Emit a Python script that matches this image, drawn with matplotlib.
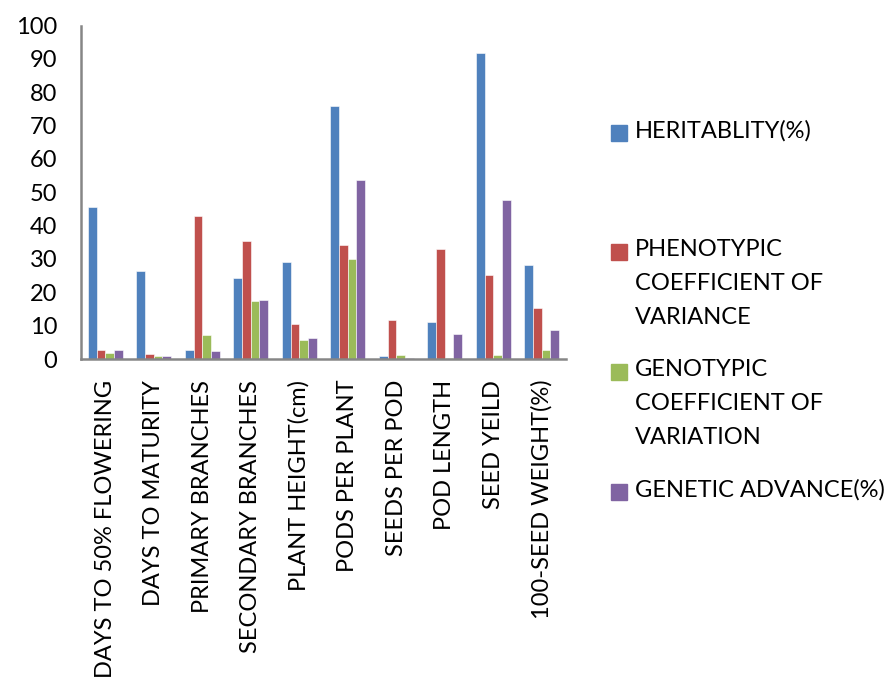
import numpy as np
import matplotlib
matplotlib.use("Agg")
from matplotlib import pyplot as plt
from matplotlib.patches import Rectangle

plt.rcParams['font.family'] = ['Lato', 'DejaVu Sans']

# Categories and series values
traits = ["DAYS TO 50% FLOWERING", "DAYS TO MATURITY", "PRIMARY BRANCHES",
          "SECONDARY BRANCHES", "PLANT HEIGHT(cm)", "PODS PER PLANT",
          "SEEDS PER POD", "POD LENGTH", "SEED YEILD", "100-SEED WEIGHT(%)"]
heritability = [45.6, 26.5, 2.7, 24.3, 29.0, 76.0, 1.0, 11.1, 91.8, 28.2]
pcv = [2.8, 1.5, 42.8, 35.4, 10.5, 34.1, 11.7, 33.1, 25.1, 15.3]
gcv = [1.9, 0.9, 7.1, 17.4, 5.7, 29.9, 1.2, 0.2, 1.2, 2.7]
genetic_adv = [2.7, 0.8, 2.4, 17.7, 6.3, 53.6, 0.3, 7.6, 47.8, 8.7]

series_labels = ["HERITABLITY(%)", "PHENOTYPIC\nCOEFFICIENT OF\nVARIANCE",
                 "GENOTYPIC\nCOEFFICIENT OF\nVARIATION", "GENETIC ADVANCE(%)"]
colors = ["#4F81BD", "#C0504D", "#9BBB59", "#8064A2"]

fig = plt.figure(figsize=(8.94, 6.77), dpi=100)
ax = fig.add_axes([81/894, 1 - 359/677, (566 - 81)/894, (359 - 25.5)/677])

x = np.arange(len(traits))
w = 0.18
all_series = [heritability, pcv, gcv, genetic_adv]
for i, vals in enumerate(all_series):
    ax.bar(x + (i - 1.5) * w, vals, width=w, color=colors[i],
           edgecolor="white", linewidth=0.4)

ax.set_xlim(-0.5, len(traits) - 0.5)
ax.set_ylim(0, 100)
ax.set_yticks(range(0, 101, 10))
ax.set_xticks(x)
ax.set_xticklabels(traits, rotation=90, va="top", ha="center")
ax.tick_params(axis="both", length=0, labelsize=17)
ax.tick_params(axis="y", pad=17)
ax.tick_params(axis="x", pad=15)
for s in ["top", "right"]:
    ax.spines[s].set_visible(False)
for s in ["left", "bottom"]:
    ax.spines[s].set_color("#868686")
    ax.spines[s].set_linewidth(1.8)

# legend drawn by hand, marker aligned with first line of each label
ys = [133, 252, 372, 492]
for lab, col, yc in zip(series_labels, colors, ys):
    fig.patches.append(Rectangle((611/894, 1 - (yc + 8)/677), 16/894, 16/677,
                                 transform=fig.transFigure, color=col))
    fig.text(635/894, 1 - (yc - 13)/677, lab, va="top", ha="left",
             fontsize=17, linespacing=1.75)

fig.savefig("out.png", dpi=100)
